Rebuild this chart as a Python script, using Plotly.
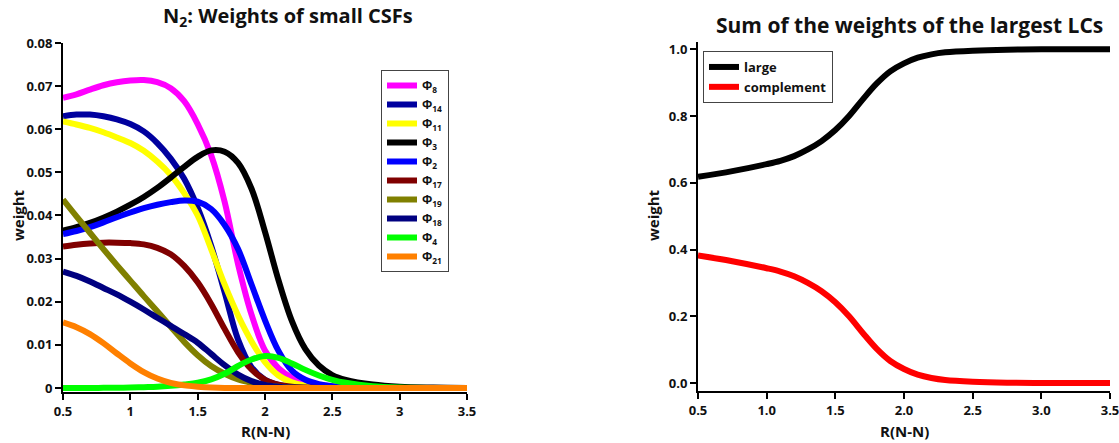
import plotly.graph_objects as go

# ---------------- data ----------------
r_left = [0.5, 0.6, 0.7, 0.8, 0.9, 1.0, 1.1, 1.2, 1.3, 1.4, 1.5, 1.6, 1.7, 1.8, 1.9, 2.0,
          2.1, 2.2, 2.3, 2.4, 2.5, 2.6, 2.8, 3.0, 3.25, 3.5]

phi8 = [.0673, .0681, .0692, .0702, .0709, .0713, .0714, .0709, .0695, .0665, .0612, .0540, .0432,
        .0287, .0170, .0087, .0046, .0024, .0013, .0007, .0004, .0002, .0001, 0, 0, 0]
phi14 = [.0630, .0634, .0634, .0630, .0623, .0612, .0595, .0568, .0532, .0485, .0418, .0330, .0222,
         .0112, .0048, .0019, .0007, .0003, .0001, 0, 0, 0, 0, 0, 0, 0]
phi11 = [.0618, .0611, .0603, .0593, .0581, .0568, .0550, .0525, .0494, .0452, .0400, .0322, .0240,
         .0168, .0108, .0060, .0029, .0013, .0005, .0002, .0001, 0, 0, 0, 0, 0]
phi3 = [.0365, .0373, .0383, .0395, .0409, .0425, .0443, .0464, .0488, .0513, .0536, .0551, .0548,
        .0522, .0462, .0362, .0250, .0155, .0090, .0052, .0030, .0019, .0008, .0003, .0001, 0]
phi2 = [.0357, .0364, .0373, .0384, .0396, .0407, .0417, .0425, .0431, .0435, .0432, .0415, .0378,
        .0322, .0240, .0157, .0086, .0040, .0019, .0009, .0004, .0002, .0001, 0, 0, 0]
phi17 = [.0328, .0332, .0335, .0337, .0337, .0336, .0333, .0325, .0310, .0283, .0245, .0195, .0137,
         .0083, .0043, .0019, .0008, .0003, .0001, 0, 0, 0, 0, 0, 0, 0]
phi19 = [.0437, .0398, .0360, .0322, .0285, .0249, .0213, .0178, .0142, .0107, .0076, .0051, .0033,
         .0020, .0012, .0006, .0003, .0001, 0, 0, 0, 0, 0, 0, 0, 0]
phi18 = [.0270, .0260, .0247, .0232, .0217, .0200, .0182, .0163, .0144, .0125, .0105, .0079, .0053,
         .0031, .0016, .0007, .0003, .0001, 0, 0, 0, 0, 0, 0, 0, 0]
phi4 = [0, 0, 0, .00003, .00005, .0001, .0002, .0003, .0005, .0008, .0012, .0020, .0033,
        .0051, .0066, .0074, .0070, .0057, .0042, .0029, .0019, .0012, .0004, .0001, 0, 0]
phi21 = [.0152, .0141, .0125, .0104, .0080, .0057, .0037, .0022, .0012, .0006, .0003, .0001, 0,
         0, 0, 0, 0, 0, 0, 0, 0, 0, 0, 0, 0, 0]

left_series = [
    ("Φ<sub>8</sub>", phi8, "#ff00ff"),
    ("Φ<sub>14</sub>", phi14, "#00009f"),
    ("Φ<sub>11</sub>", phi11, "#ffff00"),
    ("Φ<sub>3</sub>", phi3, "#000000"),
    ("Φ<sub>2</sub>", phi2, "#0000ff"),
    ("Φ<sub>17</sub>", phi17, "#800000"),
    ("Φ<sub>19</sub>", phi19, "#808000"),
    ("Φ<sub>18</sub>", phi18, "#000080"),
    ("Φ<sub>4</sub>", phi4, "#00ff00"),
    ("Φ<sub>21</sub>", phi21, "#ff8000"),
]

r_right = [0.5, 0.75, 1.0, 1.1, 1.2, 1.3, 1.4, 1.5, 1.6, 1.7, 1.8, 1.9, 2.0, 2.1, 2.2, 2.3,
           2.5, 2.75, 3.0, 3.5]
large = [0.618, 0.635, 0.656, 0.666, 0.680, 0.700, 0.725, 0.758, 0.800, 0.850, 0.897, 0.934,
         0.958, 0.975, 0.985, 0.991, 0.996, 0.999, 1.0, 1.0]
complement = [0.382, 0.365, 0.344, 0.334, 0.320, 0.300, 0.275, 0.242, 0.200, 0.150, 0.103,
              0.066, 0.042, 0.025, 0.015, 0.009, 0.004, 0.001, 0.0, 0.0]

left_yticks = [0, 0.01, 0.02, 0.03, 0.04, 0.05, 0.06, 0.07, 0.08]
left_yticklabels = ["0", "0.01", "0.02", "0.03", "0.04", "0.05", "0.06", "0.07", "0.08"]
left_xticks = [0.5, 1, 1.5, 2, 2.5, 3, 3.5]
left_xticklabels = ["0.5", "1", "1.5", "2", "2.5", "3", "3.5"]
right_yticks = [0, 0.2, 0.4, 0.6, 0.8, 1.0]
right_yticklabels = ["0.0", "0.2", "0.4", "0.6", "0.8", "1.0"]
right_xticks = [0.5, 1.0, 1.5, 2.0, 2.5, 3.0, 3.5]
right_xticklabels = ["0.5", "1.0", "1.5", "2.0", "2.5", "3.0", "3.5"]

# ---------------- figure ----------------
FONT = "Open Sans"
W, H = 1119, 443
fig = go.Figure()

for name, vals, col in left_series:
    fig.add_trace(go.Scatter(x=r_left, y=vals, name=name, mode="lines",
                             line=dict(color=col, width=6, shape="spline", smoothing=1.0),
                             xaxis="x", yaxis="y", legend="legend"))

fig.add_trace(go.Scatter(x=r_right, y=large, name="large", mode="lines",
                         line=dict(color="#000000", width=6, shape="spline", smoothing=1.0),
                         xaxis="x2", yaxis="y2", legend="legend2"))
fig.add_trace(go.Scatter(x=r_right, y=complement, name="complement", mode="lines",
                         line=dict(color="#ff0000", width=6, shape="spline", smoothing=1.0),
                         xaxis="x2", yaxis="y2", legend="legend2"))

tickfont = dict(family=FONT, size=13, color="#111", weight="bold")
axis_common = dict(showline=True, linecolor="black", linewidth=2, ticks="outside",
                   ticklen=6, tickwidth=2, tickcolor="black", showgrid=False,
                   zeroline=False, tickfont=tickfont, automargin=False,
                   ticklabeloverflow="allow")

fig.update_layout(
    width=W, height=H,
    margin=dict(l=0, r=0, t=0, b=0, autoexpand=False),
    paper_bgcolor="white", plot_bgcolor="white",
    xaxis=dict(domain=[63 / W, 467 / W], range=[0.5, 3.5], anchor="y",
               tickvals=left_xticks, ticktext=left_xticklabels, **axis_common),
    yaxis=dict(domain=[(H - 392) / H, (H - 43) / H], range=[-0.00093, 0.08], anchor="x",
               tickvals=left_yticks, ticktext=left_yticklabels, **axis_common),
    xaxis2=dict(domain=[698 / W, 1110 / W], range=[0.5, 3.5], anchor="y2",
                tickvals=right_xticks, ticktext=right_xticklabels, **axis_common),
    yaxis2=dict(domain=[(H - 391) / H, (H - 42) / H], range=[-0.024, 1.022], anchor="x2",
                tickvals=right_yticks, ticktext=right_yticklabels, **axis_common),
    legend=dict(x=381 / W, y=1 - 70 / H, xanchor="left", yanchor="top",
                bgcolor="white", bordercolor="#444", borderwidth=1,
                font=dict(family=FONT, size=12, color="#111", weight="bold"),
                tracegroupgap=0, itemwidth=30),
    legend2=dict(x=703 / W, y=1 - 51 / H, xanchor="left", yanchor="top",
                 bgcolor="white", bordercolor="#444", borderwidth=1,
                 font=dict(family=FONT, size=13, color="#111", weight="bold"),
                 tracegroupgap=0, itemwidth=30),
    showlegend=True,
)

label_font = dict(family=FONT, size=15, color="#111", weight="bold")
fig.add_annotation(text="N<sub>2</sub>: Weights of small CSFs", x=288 / W, y=1 - 17 / H,
                   xref="paper", yref="paper", showarrow=False,
                   font=dict(family=FONT, size=20, color="#111", weight="bold"),
                   xanchor="center", yanchor="middle")
fig.add_annotation(text="Sum of the weights of the largest LCs", x=909 / W, y=1 - 25 / H,
                   xref="paper", yref="paper", showarrow=False,
                   font=dict(family=FONT, size=21, color="#111", weight="bold"),
                   xanchor="center", yanchor="middle")
fig.add_annotation(text="weight", x=18 / W, y=1 - 215 / H, textangle=-90,
                   xref="paper", yref="paper", showarrow=False, font=label_font,
                   xanchor="center", yanchor="middle")
fig.add_annotation(text="weight", x=653 / W, y=1 - 215 / H, textangle=-90,
                   xref="paper", yref="paper", showarrow=False, font=label_font,
                   xanchor="center", yanchor="middle")
fig.add_annotation(text="R(N-N)", x=265 / W, y=1 - 431 / H,
                   xref="paper", yref="paper", showarrow=False, font=label_font,
                   xanchor="center", yanchor="middle")
fig.add_annotation(text="R(N-N)", x=904 / W, y=1 - 431 / H,
                   xref="paper", yref="paper", showarrow=False, font=label_font,
                   xanchor="center", yanchor="middle")

fig.write_html("out.html")
